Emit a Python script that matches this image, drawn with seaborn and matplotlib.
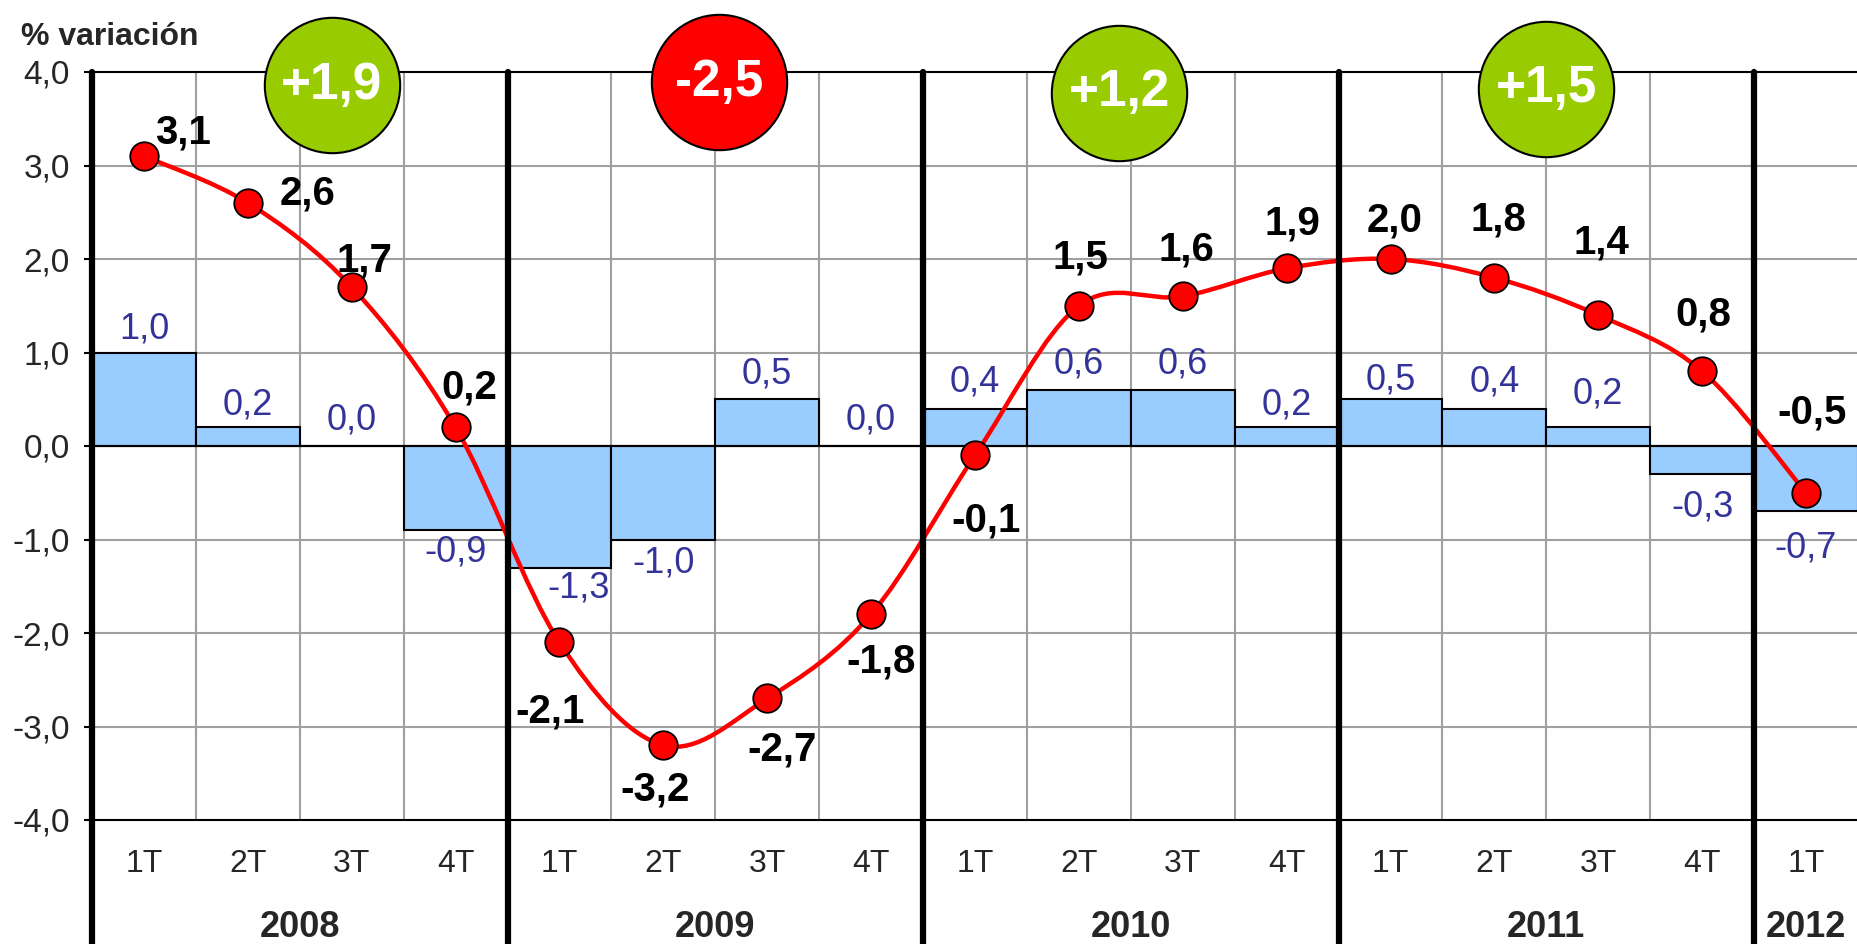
import numpy as np
import pandas as pd
import matplotlib.pyplot as plt
import seaborn as sns
from matplotlib.path import Path
from matplotlib.patches import PathPatch
from matplotlib.ticker import FuncFormatter
import matplotlib.transforms as mtransforms

# === DATA ===
years = ["2008", "2009", "2010", "2011", "2012"]
quarters_in_year = [4, 4, 4, 4, 1]
quarter_names = ["1T", "2T", "3T", "4T"]

# quarterly change (bars) and year-on-year change (line), % variación
quarterly_change = [1.0, 0.2, 0.0, -0.9,
                    -1.3, -1.0, 0.5, 0.0,
                    0.4, 0.6, 0.6, 0.2,
                    0.5, 0.4, 0.2, -0.3,
                    -0.7]
annual_change = [3.1, 2.6, 1.7, 0.2,
                 -2.1, -3.2, -2.7, -1.8,
                 -0.1, 1.5, 1.6, 1.9,
                 2.0, 1.8, 1.4, 0.8,
                 -0.5]
# yearly average shown in the bubbles (2008-2011)
year_average = [1.9, -2.5, 1.2, 1.5]

# === LAYOUT / STYLE ===
bar_color = "#99CCFF"
bar_label_color = "#333399"
line_color = "#FF0000"
green = "#99CC00"
grid_gray = "#A0A0A0"

# bubble centres (x in category units, y in data units)
bubble_x = [1.81, 5.54, 9.39, 13.5]
bubble_y = [3.86, 3.89, 3.78, 3.82]

# offsets (points) of the bold line labels relative to each marker
line_label_offsets = [(28, 17), (43, 7), (9, 19), (10, 29),
                      (-7, -50), (-6, -32), (11, -37), (7, -34),
                      (8, -47), (1, 35), (3, 34), (4, 32),
                      (3, 28), (3, 42), (2, 52), (1, 41),
                      (4, 58)]
# offsets (points) of the blue bar labels relative to the bar end
bar_label_offsets = [(0, 17), (0, 16), (0, 19), (0, -16),
                     (14, -15), (0, -17), (0, 18), (0, 19),
                     (0, 19), (0, 19), (0, 19), (0, 16),
                     (0, 14), (0, 19), (0, 24), (0, -24),
                     (0, -26)]


def fmt(v, sign=False):
    s = f"{v:+.1f}" if sign else f"{v:.1f}"
    return s.replace(".", ",")


def smooth_path(x, y):
    """Excel-like smoothed line: cubic Bezier segments through every point."""
    pts = np.column_stack([x, y]).astype(float)
    verts = [pts[0]]
    codes = [Path.MOVETO]
    for i in range(len(pts) - 1):
        p0 = pts[i - 1] if i > 0 else pts[i]
        p1 = pts[i]
        p2 = pts[i + 1]
        p3 = pts[i + 2] if i + 2 < len(pts) else pts[i + 1]
        c1 = p1 + (p2 - p0) / 6.0
        c2 = p2 - (p3 - p1) / 6.0
        verts += [c1, c2, p2]
        codes += [Path.CURVE4] * 3
    return Path(verts, codes)


quarter_labels = [q for n in quarters_in_year for q in quarter_names[:n]]
period = [f"{y} {q}" for y, n in zip(years, quarters_in_year) for q in quarter_names[:n]]
df = pd.DataFrame({"period": period, "quarter": quarter_labels,
                   "quarterly": quarterly_change, "annual": annual_change})
df["pos"] = np.arange(len(df))

sns.set_theme(style="white")
plt.rcParams["font.family"] = ["Liberation Sans", "DejaVu Sans"]

fig = plt.figure(figsize=(18.58, 9.44), dpi=100)
ax = fig.add_axes([92 / 1858, 1 - 820 / 944, 1 - 92 / 1858, 748 / 944])

# bars
sns.barplot(data=df, x="period", y="quarterly", order=period, color=bar_color,
            width=1.0, edgecolor="black", linewidth=1.5, saturation=1, ax=ax, zorder=3)

# grid
for i in range(len(df) - 1):
    ax.axvline(i + 0.5, color=grid_gray, lw=1.5, zorder=1)
for v in range(-3, 4):
    ax.axhline(v, color=grid_gray, lw=1.5, zorder=1)
ax.axhline(0, color="black", lw=1.5, zorder=4)

# smoothed line + markers
ax.add_patch(PathPatch(smooth_path(df["pos"], df["annual"]), facecolor="none",
                       edgecolor=line_color, lw=3.2, zorder=5, capstyle="round"))
sns.scatterplot(data=df, x="pos", y="annual", color=line_color, s=420,
                edgecolor="black", linewidth=1.3, zorder=6, ax=ax, legend=False)

# labels on bars
for i, v in enumerate(quarterly_change):
    ax.annotate(fmt(v), (i, v), xytext=bar_label_offsets[i],
                textcoords="offset points", ha="center", va="center",
                fontsize=26, color=bar_label_color, zorder=7)

# labels on line
for i, v in enumerate(annual_change):
    ax.annotate(fmt(v), (i, v), xytext=line_label_offsets[i],
                textcoords="offset points", ha="center", va="center",
                fontsize=29, fontweight="bold", color="black", zorder=7)

# year bubbles
for x, y, v in zip(bubble_x, bubble_y, year_average):
    ax.scatter([x], [y], s=9500, color=green if v > 0 else line_color,
               edgecolor="black", linewidth=1.5, zorder=8, clip_on=False)
    ax.text(x, y, fmt(v, sign=True), ha="center", va="center", color="white",
            fontsize=37, fontweight="bold", zorder=9, clip_on=False)

# axes
ax.set_xlim(-0.5, len(df) - 0.5)
ax.set_ylim(-4, 4)
ax.set_yticks(range(-4, 5))
ax.yaxis.set_major_formatter(FuncFormatter(lambda v, _: fmt(v)))
ax.set_xticks(df["pos"])
ax.set_xticklabels(quarter_labels)
ax.set_xlabel("")
ax.set_ylabel("")
ax.tick_params(axis="y", which="both", left=True, length=6, width=1.5,
               color="black", labelsize=24, pad=10)
ax.tick_params(axis="x", length=0, labelsize=23, pad=21)

for side in ["top", "bottom"]:
    ax.spines[side].set_color("black")
    ax.spines[side].set_linewidth(1.5)
ax.spines["right"].set_visible(False)
ax.spines["left"].set_visible(False)

# thick year separators reaching below the axis
bounds = np.cumsum([0] + quarters_in_year) - 0.5
for b in bounds[:-1]:
    ax.axvline(b, ymin=-0.166, ymax=1, color="black", lw=4.5, clip_on=False, zorder=10)

# year labels
trans = mtransforms.blended_transform_factory(ax.transData, ax.transAxes)
for y, a, b in zip(years, bounds[:-1], bounds[1:]):
    ax.text((a + b) / 2, -0.144, y, transform=trans, ha="center", va="center",
            fontsize=26, fontweight="bold")

fig.text(21 / 1858, 1 - 37 / 944, "% variación", ha="left", va="center",
         fontsize=23, fontweight="bold")

fig.savefig("out.png", dpi=100)
